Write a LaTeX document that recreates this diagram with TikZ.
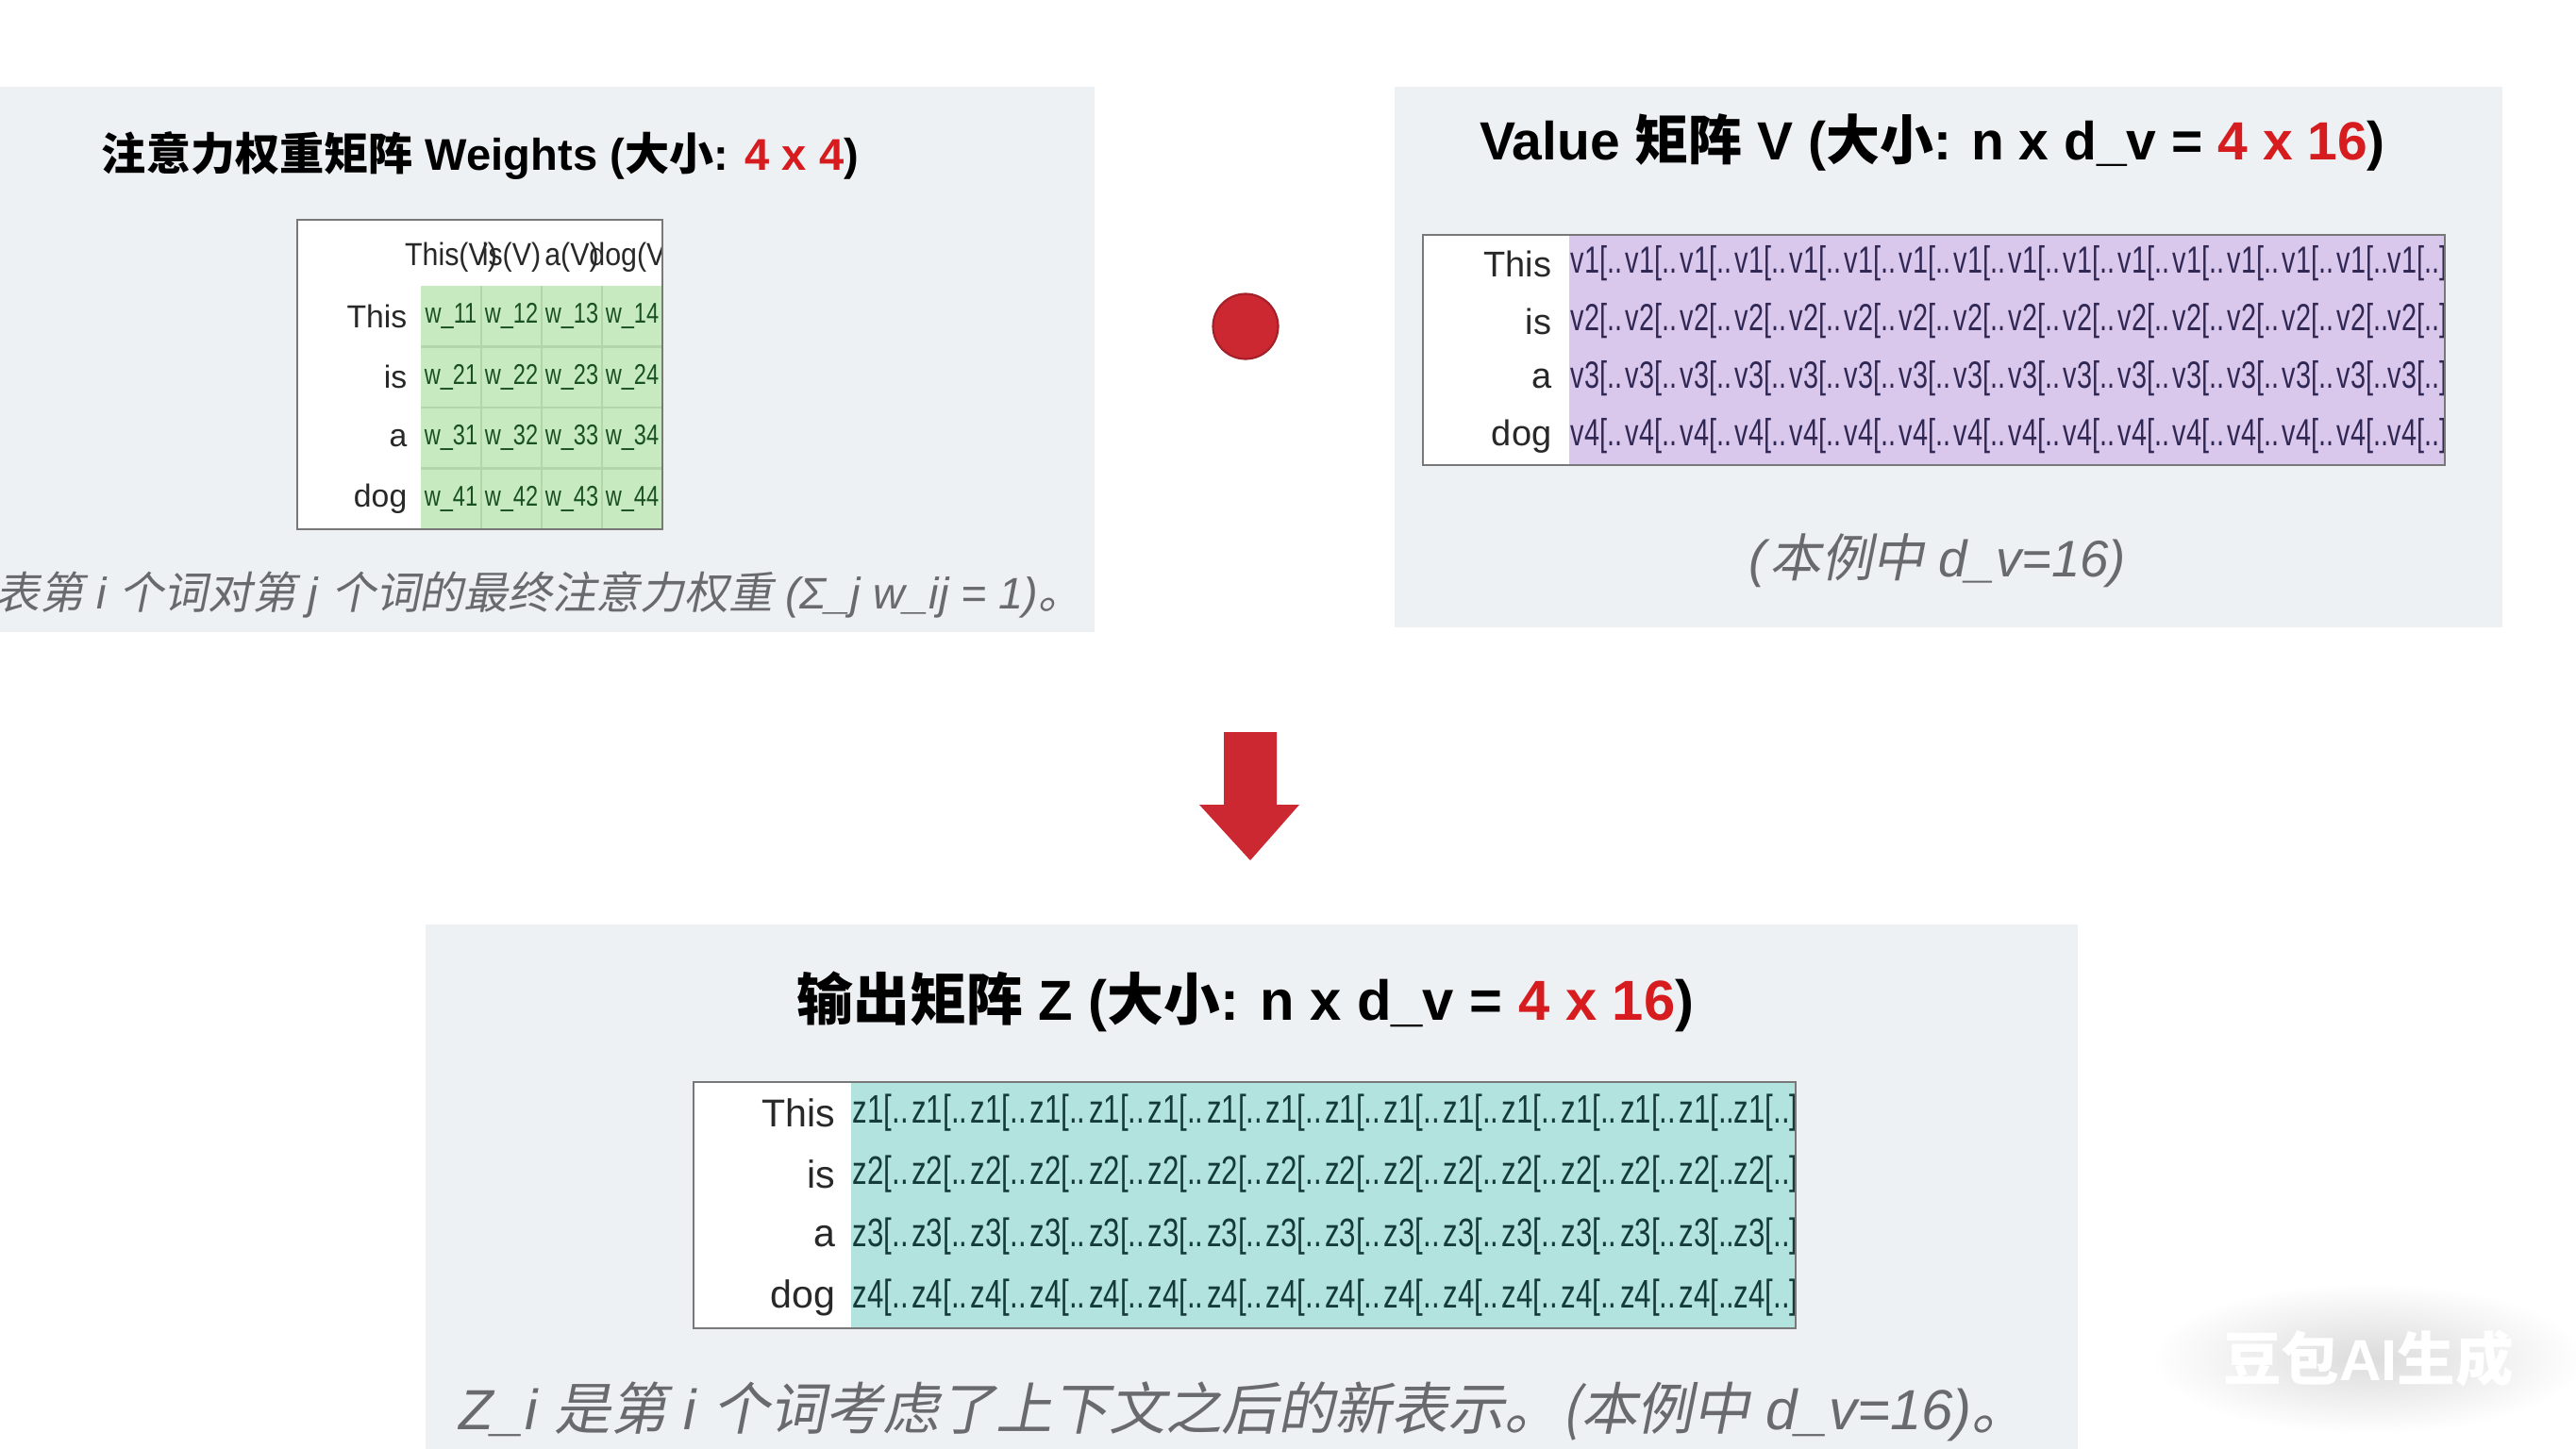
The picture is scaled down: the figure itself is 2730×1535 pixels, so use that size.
\documentclass[tikz,border=0pt]{standalone}
\usepackage{graphicx}
\usepackage{fontspec}
\setmainfont{Liberation Sans}
\newfontfamily\cjk{Noto Sans CJK SC}
\newfontfamily\cjksl{Noto Sans CJK SC}[FakeSlant=0.2]
\newcommand\zs[1]{{\cjksl #1}}
\newcommand\zb[1]{{\cjk\bfseries #1}}
\definecolor{panelbg}{RGB}{238,241,244}
\definecolor{greencell}{RGB}{200,234,192}
\definecolor{greenline}{RGB}{178,214,170}
\definecolor{purplecell}{RGB}{218,199,236}
\definecolor{tealcell}{RGB}{178,227,222}
\definecolor{redc}{RGB}{204,40,50}
\definecolor{redt}{RGB}{214,28,30}
\definecolor{capgray}{RGB}{105,106,110}
\definecolor{boxgray}{RGB}{120,120,120}
\definecolor{labdark}{RGB}{40,40,40}
\definecolor{wtext}{RGB}{25,80,35}
\definecolor{vtext}{RGB}{48,40,84}
\definecolor{ztext}{RGB}{20,58,58}
\tikzset{
  ttl/.style={inner sep=0pt, text=black, font=\fontsize{16.2}{19}\selectfont\bfseries},
  ttlsmall/.style={ttl, font=\fontsize{13.4}{16}\selectfont\bfseries},
  captxt/.style={inner sep=0pt, text=capgray},
  rowlab/.style={inner sep=0pt, anchor=east, text=labdark},
  wcell/.style={inner sep=0pt, text=wtext, font=\fontsize{8.6}{10}\selectfont},
  vcell/.style={inner sep=0pt, text=vtext, font=\fontsize{11.4}{13}\selectfont},
  zcell/.style={inner sep=0pt, text=ztext, font=\fontsize{12}{14}\selectfont},
  tbox/.style={draw=boxgray, line width=0.8pt, fill=white},
}
\begin{document}
\begin{tikzpicture}[x=0.01cm,y=-0.01cm]
\useasboundingbox (0,0) rectangle (2730,1535);
\fill[white] (0,0) rectangle (2730,1535);
\begin{scope}
\clip (0,0) rectangle (2730,1535);
% panels
\fill[panelbg] (-10,92) rectangle (1160,670);
\fill[panelbg] (1478,92) rectangle (2652,665);
\fill[panelbg] (451,980) rectangle (2202,1545);

% ---------- Weights panel ----------
\node[ttlsmall] (tw) at (509,165) {\zb{注意力权重矩阵} Weights (\zb{大小}: \textcolor{redt}{4 x 4})};
\draw[tbox] (315,233) rectangle (702,561);
\fill[greencell] (446,303) rectangle (702,561);
\foreach \xx in {510,574,638} \draw[greenline, line width=0.8pt] (\xx,303) -- (\xx,561);
\foreach \yy in {367.5,432,496.5} \draw[greenline, line width=0.8pt] (446,\yy) -- (702,\yy);
\begin{scope}
\clip (315,233) rectangle (702,561);
\foreach \c/\h in {0/This(V),1/is(V),2/a(V),3/dog(V)}
  \node[inner sep=0pt, text=labdark, font=\fontsize{9.6}{11}\selectfont] (wh\c) at ({478+64*\c},273) {\scalebox{0.9}[1]{\h}};
\foreach \r in {1,2,3,4}
  \foreach \c in {1,2,3,4}
    \node[wcell] (w\r\c) at ({446+64*\c-32},{303+64.5*\r-32.25}) {\scalebox{0.78}[1]{w\_\r\c}};
\end{scope}
\draw[boxgray, line width=0.8pt] (315,233) rectangle (702,561);
\foreach \r/\lab in {1/This,2/is,3/a,4/dog}
  \node[rowlab, font=\fontsize{9.6}{11}\selectfont] (wl\r) at (432,{303+64.5*\r-32.25}) {\lab};
\node[captxt, anchor=east, font=\fontsize{13.3}{15}\selectfont] (cw) at (1148,630)
  {\zs{代表第} \textit{i} \zs{个词对第} \textit{j} \zs{个词的最终注意力权重} \textit{(Σ\_j w\_ij = 1)}\zs{。}};

% ---------- multiplication dot ----------
\node[circle, fill=redc, draw=redc!80!black, line width=0.6pt, minimum size=0.69cm, inner sep=0pt] (dot) at (1320,346) {};

% ---------- Value panel ----------
\node[ttl] (tv) at (2048,151) {Value \zb{矩阵} V (\zb{大小}: n x d\_v = \textcolor{redt}{4 x 16})};
\draw[tbox] (1508,249) rectangle (2591,493);
\fill[purplecell] (1663,249) rectangle (2591,493);
\begin{scope}
\clip (1663,249) rectangle (2591,493);
\foreach \r in {1,2,3,4}{
  \foreach \c in {0,...,14}
    \node[vcell] (v\r-\c) at ({1663+58*\c+29},{249+61*\r-30.5}) {\scalebox{0.72}[1]{v\r[..}};
  \node[vcell] (v\r-15) at ({1663+58*15+29},{249+61*\r-30.5}) {\scalebox{0.72}[1]{v\r[..]}};
}
\end{scope}
\draw[boxgray, line width=0.8pt] (1508,249) rectangle (2591,493);
\foreach \r/\lab in {1/This,2/is,3/a,4/dog}
  \node[rowlab, font=\fontsize{10.8}{13}\selectfont] (vl\r) at (1645,{249+61*\r-30.5}) {\lab};
\node[captxt, font=\fontsize{15.5}{18}\selectfont] (cv) at (2053,594) {\textit{(}\zs{本例中} \textit{d\_v=16)}};

% ---------- arrow ----------
\fill[redc] (1297,776) -- (1353,776) -- (1353,853) -- (1377,853) -- (1325,912) -- (1271,853) -- (1297,853) -- cycle;

% ---------- Output panel ----------
\node[ttl, font=\fontsize{17}{20}\selectfont\bfseries] (tz) at (1320,1062) {\zb{输出矩阵} Z (\zb{大小}: n x d\_v = \textcolor{redt}{4 x 16})};
\draw[tbox] (735,1147) rectangle (1903,1408);
\fill[tealcell] (902,1147) rectangle (1903,1408);
\begin{scope}
\clip (902,1147) rectangle (1903,1408);
\foreach \r in {1,2,3,4}{
  \foreach \c in {0,...,14}
    \node[zcell] (z\r-\c) at ({902+62.56*\c+31.28},{1147+65.25*\r-32.6}) {\scalebox{0.74}[1]{z\r[..}};
  \node[zcell] (z\r-15) at ({902+62.56*15+31.28},{1147+65.25*\r-32.6}) {\scalebox{0.74}[1]{z\r[..]}};
}
\end{scope}
\draw[boxgray, line width=0.8pt] (735,1147) rectangle (1903,1408);
\foreach \r/\lab in {1/This,2/is,3/a,4/dog}
  \node[rowlab, font=\fontsize{11.7}{14}\selectfont] (zl\r) at (886,{1147+65.25*\r-32.6}) {\lab};
\node[captxt, font=\fontsize{17.05}{20}\selectfont] (cz) at (1318,1496)
  {\textit{Z\_i} \zs{是第} \textit{i} \zs{个词考虑了上下文之后的新表示。(本例中} \textit{d\_v=16)}\zs{。}};

% ---------- watermark ----------
\shade[inner color=black!14, outer color=white] (2510,1440) ellipse (230 and 80);
\node[inner sep=0pt, text=white, font=\fontsize{17.5}{20}\selectfont\bfseries] (wm) at (2510,1440) {\zb{豆包}AI\zb{生成}};
\end{scope}
\end{tikzpicture}
\end{document}
